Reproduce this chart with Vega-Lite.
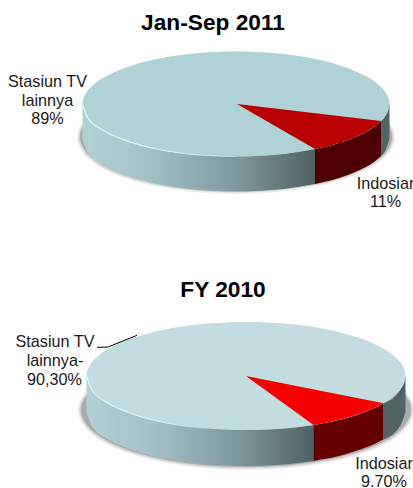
{
"$schema":"https://vega.github.io/schema/vega-lite/v6.json",
"width":413,"height":488,"padding":0,"autosize":{"type":"none"},
"background":"white",
"config":{"view":{"stroke":null}},
"resolve":{"scale":{"fill":"independent","color":"independent"}},
"datasets":{
"shadow":[
{"pie":"2011","i":0,"x":391,"y":137},{"pie":"2011","i":1,"x":370.2,"y":163.5},{"pie":"2011","i":2,"x":313.5,"y":182.9},{"pie":"2011","i":3,"x":236,"y":190},{"pie":"2011","i":4,"x":158.5,"y":182.9},{"pie":"2011","i":5,"x":101.8,"y":163.5},{"pie":"2011","i":6,"x":81,"y":137},{"pie":"2011","i":7,"x":101.8,"y":110.5},{"pie":"2011","i":8,"x":158.5,"y":91.1},{"pie":"2011","i":9,"x":236,"y":84},{"pie":"2011","i":10,"x":313.5,"y":91.1},{"pie":"2011","i":11,"x":370.2,"y":110.5},
{"pie":"2010","i":0,"x":410,"y":410},{"pie":"2010","i":1,"x":388,"y":438},{"pie":"2010","i":2,"x":328,"y":458.5},{"pie":"2010","i":3,"x":246,"y":466},{"pie":"2010","i":4,"x":164,"y":458.5},{"pie":"2010","i":5,"x":104,"y":438},{"pie":"2010","i":6,"x":82,"y":410},{"pie":"2010","i":7,"x":104,"y":382},{"pie":"2010","i":8,"x":164,"y":361.5},{"pie":"2010","i":9,"x":246,"y":354},{"pie":"2010","i":10,"x":328,"y":361.5},{"pie":"2010","i":11,"x":388,"y":382}
],
"side":[
{"pie":"2011","seg":"other","x":82.5,"y":104,"y2":139},{"pie":"2011","seg":"other","x":87.7,"y":117.6,"y2":152.6},{"pie":"2011","seg":"other","x":103.1,"y":130.3,"y2":165.3},{"pie":"2011","seg":"other","x":127.5,"y":141.1,"y2":176.1},{"pie":"2011","seg":"other","x":159.2,"y":149.5,"y2":184.5},{"pie":"2011","seg":"other","x":196.2,"y":154.7,"y2":189.7},{"pie":"2011","seg":"other","x":236,"y":156.5,"y2":191.5},{"pie":"2011","seg":"other","x":275.8,"y":154.7,"y2":189.7},{"pie":"2011","seg":"other","x":315,"y":149,"y2":184},
{"pie":"2011","seg":"indosiar","x":315,"y":149,"y2":184},{"pie":"2011","seg":"indosiar","x":326.3,"y":146.5,"y2":181.5},{"pie":"2011","seg":"indosiar","x":340.7,"y":142.4,"y2":177.4},{"pie":"2011","seg":"indosiar","x":353.6,"y":137.8,"y2":172.8},{"pie":"2011","seg":"indosiar","x":364.8,"y":132.6,"y2":167.6},{"pie":"2011","seg":"indosiar","x":374,"y":127,"y2":162},{"pie":"2011","seg":"indosiar","x":381.1,"y":121.1,"y2":156.1},
{"pie":"2011","seg":"back","x":381.1,"y":121.1,"y2":156.1},{"pie":"2011","seg":"back","x":384.3,"y":117.6,"y2":152.6},{"pie":"2011","seg":"back","x":389.5,"y":104,"y2":139},
{"pie":"2010","seg":"other","x":86.5,"y":376,"y2":412},{"pie":"2010","seg":"other","x":91.9,"y":390,"y2":426},{"pie":"2010","seg":"other","x":107.9,"y":403,"y2":439},{"pie":"2010","seg":"other","x":133.2,"y":414.2,"y2":450.2},{"pie":"2010","seg":"other","x":166.2,"y":422.8,"y2":458.8},{"pie":"2010","seg":"other","x":204.7,"y":428.2,"y2":464.2},{"pie":"2010","seg":"other","x":246,"y":430,"y2":466},{"pie":"2010","seg":"other","x":287.3,"y":428.2,"y2":464.2},{"pie":"2010","seg":"other","x":313.5,"y":424.9,"y2":460.9},
{"pie":"2010","seg":"indosiar","x":313.5,"y":424.9,"y2":460.9},{"pie":"2010","seg":"indosiar","x":325.8,"y":422.8,"y2":458.8},{"pie":"2010","seg":"indosiar","x":339.8,"y":419.7,"y2":455.7},{"pie":"2010","seg":"indosiar","x":352.7,"y":416.1,"y2":452.1},{"pie":"2010","seg":"indosiar","x":364.5,"y":412.1,"y2":448.1},{"pie":"2010","seg":"indosiar","x":375,"y":407.8,"y2":443.8},{"pie":"2010","seg":"indosiar","x":383.5,"y":403.3,"y2":439.3},
{"pie":"2010","seg":"back","x":383.5,"y":403.3,"y2":439.3},{"pie":"2010","seg":"back","x":400.1,"y":390,"y2":426},{"pie":"2010","seg":"back","x":405.5,"y":376,"y2":412}
],
"top":[
{"pie":"2011","i":0,"x":389.5,"y":104},{"pie":"2011","i":1,"x":384.3,"y":117.6},{"pie":"2011","i":2,"x":368.9,"y":130.3},{"pie":"2011","i":3,"x":344.5,"y":141.1},{"pie":"2011","i":4,"x":312.8,"y":149.5},{"pie":"2011","i":5,"x":275.8,"y":154.7},{"pie":"2011","i":6,"x":236,"y":156.5},{"pie":"2011","i":7,"x":196.2,"y":154.7},{"pie":"2011","i":8,"x":159.2,"y":149.5},{"pie":"2011","i":9,"x":127.5,"y":141.1},{"pie":"2011","i":10,"x":103.1,"y":130.3},{"pie":"2011","i":11,"x":87.7,"y":117.6},{"pie":"2011","i":12,"x":82.5,"y":104},{"pie":"2011","i":13,"x":87.7,"y":90.4},{"pie":"2011","i":14,"x":103.1,"y":77.7},{"pie":"2011","i":15,"x":127.5,"y":66.9},{"pie":"2011","i":16,"x":159.2,"y":58.5},{"pie":"2011","i":17,"x":196.2,"y":53.3},{"pie":"2011","i":18,"x":236,"y":51.5},{"pie":"2011","i":19,"x":275.8,"y":53.3},{"pie":"2011","i":20,"x":312.8,"y":58.5},{"pie":"2011","i":21,"x":344.5,"y":66.9},{"pie":"2011","i":22,"x":368.9,"y":77.7},{"pie":"2011","i":23,"x":384.3,"y":90.4},
{"pie":"2010","i":0,"x":405.5,"y":376},{"pie":"2010","i":1,"x":400.1,"y":390},{"pie":"2010","i":2,"x":384.1,"y":403},{"pie":"2010","i":3,"x":358.8,"y":414.2},{"pie":"2010","i":4,"x":325.8,"y":422.8},{"pie":"2010","i":5,"x":287.3,"y":428.2},{"pie":"2010","i":6,"x":246,"y":430},{"pie":"2010","i":7,"x":204.7,"y":428.2},{"pie":"2010","i":8,"x":166.2,"y":422.8},{"pie":"2010","i":9,"x":133.2,"y":414.2},{"pie":"2010","i":10,"x":107.9,"y":403},{"pie":"2010","i":11,"x":91.9,"y":390},{"pie":"2010","i":12,"x":86.5,"y":376},{"pie":"2010","i":13,"x":91.9,"y":362},{"pie":"2010","i":14,"x":107.9,"y":349},{"pie":"2010","i":15,"x":133.2,"y":337.8},{"pie":"2010","i":16,"x":166.2,"y":329.2},{"pie":"2010","i":17,"x":204.7,"y":323.8},{"pie":"2010","i":18,"x":246,"y":322},{"pie":"2010","i":19,"x":287.3,"y":323.8},{"pie":"2010","i":20,"x":325.8,"y":329.2},{"pie":"2010","i":21,"x":358.8,"y":337.8},{"pie":"2010","i":22,"x":384.1,"y":349},{"pie":"2010","i":23,"x":400.1,"y":362}
],
"wedge":[
{"pie":"2011","i":0,"x":237,"y":104},{"pie":"2011","i":1,"x":381.1,"y":121.1},{"pie":"2011","i":2,"x":374,"y":127},{"pie":"2011","i":3,"x":364.8,"y":132.6},{"pie":"2011","i":4,"x":353.6,"y":137.8},{"pie":"2011","i":5,"x":340.7,"y":142.4},{"pie":"2011","i":6,"x":326.3,"y":146.5},{"pie":"2011","i":7,"x":315,"y":149},
{"pie":"2010","i":0,"x":246,"y":376},{"pie":"2010","i":1,"x":383.5,"y":403.3},{"pie":"2010","i":2,"x":375,"y":407.8},{"pie":"2010","i":3,"x":364.5,"y":412.1},{"pie":"2010","i":4,"x":352.7,"y":416.1},{"pie":"2010","i":5,"x":339.8,"y":419.7},{"pie":"2010","i":6,"x":325.8,"y":422.8},{"pie":"2010","i":7,"x":313.5,"y":424.9}
],
"leader":[{"i":0,"x":97,"y":347.3},{"i":1,"x":108,"y":347},{"i":2,"x":137,"y":335.3}],
"titles":[{"text":"Jan-Sep 2011","x":213,"y":30},{"text":"FY 2010","x":223,"y":297}],
"labels":[
{"text":"Stasiun TV","x":47.5,"y":87},{"text":"lainnya","x":47.5,"y":105.5},{"text":"89%","x":47.5,"y":124},
{"text":"Indosiar","x":385.5,"y":188.5},{"text":"11%","x":385.5,"y":207},
{"text":"Stasiun TV","x":55,"y":347},{"text":"lainnya-","x":55,"y":366},{"text":"90,30%","x":54.5,"y":385},
{"text":"Indosiar","x":384,"y":468.5},{"text":"9.70%","x":384,"y":486.5}
]
},
"encoding":{
"x":{"field":"x","type":"quantitative","scale":{"domain":[0,413],"nice":false,"zero":false},"axis":null},
"y":{"field":"y","type":"quantitative","scale":{"domain":[488,0],"nice":false,"zero":false},"axis":null}
},
"layer":[
{"data":{"name":"shadow"},"mark":{"type":"line","interpolate":"cardinal-closed","stroke":"#777777","strokeWidth":8,"opacity":0.12,"fill":"#777777"},"encoding":{"detail":{"field":"pie"},"order":{"field":"i"}}},
{"data":{"name":"shadow"},"mark":{"type":"line","interpolate":"cardinal-closed","stroke":"#666666","strokeWidth":5,"opacity":0.2,"fill":"#666666"},"encoding":{"detail":{"field":"pie"},"order":{"field":"i"}}},
{"data":{"name":"shadow"},"mark":{"type":"line","interpolate":"cardinal-closed","stroke":"#555555","strokeWidth":2,"opacity":0.3,"fill":"#555555"},"encoding":{"detail":{"field":"pie"},"order":{"field":"i"}}},
{"data":{"name":"side"},"transform":[{"filter":"datum.seg==='other'"}],"mark":{"type":"area","interpolate":"monotone","color":{"gradient":"linear","x1":0,"y1":0,"x2":1,"y2":0,"stops":[{"offset":0,"color":"#b3d0d4"},{"offset":0.3,"color":"#a4c0c4"},{"offset":0.65,"color":"#7f9a9e"},{"offset":1,"color":"#4f6164"}]}},"encoding":{"y2":{"field":"y2"},"detail":{"field":"pie"}}},
{"data":{"name":"side"},"transform":[{"filter":"datum.seg==='indosiar'"}],"mark":{"type":"area","interpolate":"monotone"},"encoding":{"y2":{"field":"y2"},"fill":{"field":"pie","type":"nominal","scale":{"domain":["2011","2010"],"range":["#4d0000","#640000"]},"legend":null}}},
{"data":{"name":"side"},"transform":[{"filter":"datum.seg==='back'"}],"mark":{"type":"area","interpolate":"monotone","color":"#526366"},"encoding":{"y2":{"field":"y2"},"detail":{"field":"pie"}}},
{"data":{"name":"top"},"mark":{"type":"line","interpolate":"cardinal-closed","filled":true,"strokeWidth":0},"encoding":{"fill":{"field":"pie","type":"nominal","scale":{"domain":["2011","2010"],"range":["#b0d2d6","#c2dcdf"]},"legend":null},"order":{"field":"i"}}},
{"data":{"name":"side"},"transform":[{"filter":"datum.seg==='other' && datum.x<240"}],"mark":{"type":"line","interpolate":"monotone","strokeWidth":1.2,"stroke":{"gradient":"linear","x1":0,"y1":0,"x2":1,"y2":0,"stops":[{"offset":0,"color":"#e6f6f8"},{"offset":0.6,"color":"#e0f2f4"},{"offset":1,"color":"#b8d6da"}]}},"encoding":{"detail":{"field":"pie"}}},
{"data":{"name":"wedge"},"mark":{"type":"line","filled":true,"strokeWidth":0},"encoding":{"fill":{"field":"pie","type":"nominal","scale":{"domain":["2011","2010"],"range":["#b90000","#f50000"]},"legend":null},"order":{"field":"i"}}},
{"data":{"name":"leader"},"mark":{"type":"line","stroke":"#000000","strokeWidth":1},"encoding":{"order":{"field":"i"}}},
{"data":{"name":"titles"},"mark":{"type":"text","font":"Liberation Sans","fontWeight":"bold","fontSize":22.7,"baseline":"alphabetic","align":"center","color":"#000000"},"encoding":{"text":{"field":"text"}}},
{"data":{"name":"labels"},"mark":{"type":"text","font":"Liberation Sans","fontSize":16.2,"baseline":"alphabetic","align":"center","color":"#1a1a1a"},"encoding":{"text":{"field":"text"}}}
]
}
